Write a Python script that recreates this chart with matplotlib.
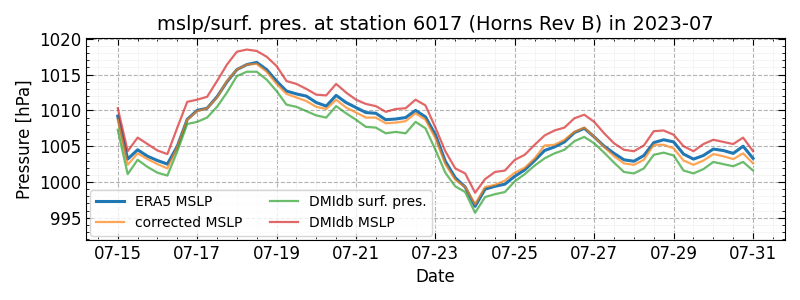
import numpy as np
import pandas as pd
import matplotlib
matplotlib.use("Agg")
import matplotlib.pyplot as plt
import matplotlib.dates as mdates
from matplotlib.ticker import MultipleLocator

times = pd.date_range("2023-07-15 00:00", "2023-07-31 00:00", freq="6h")

era5_mslp = [
    1009.2, 1003.2, 1004.5, 1003.6, 1003.0, 1002.5, 1005.0, 1008.75,
    1010.0, 1010.3, 1011.9, 1014.0, 1015.7, 1016.4, 1016.7, 1015.7,
    1014.1, 1012.7, 1012.3, 1012.0, 1011.1, 1010.6, 1012.1, 1011.1,
    1010.4, 1009.7, 1009.6, 1008.7, 1008.8, 1009.0, 1010.0, 1009.1,
    1006.6, 1002.9, 1000.6, 999.3, 996.6, 999.0, 999.4, 999.7,
    1000.8, 1001.7, 1003.0, 1004.4, 1004.9, 1005.6, 1006.9, 1007.5,
    1006.3, 1005.0, 1004.0, 1003.1, 1002.9, 1003.7, 1005.5, 1005.9,
    1005.6, 1003.9, 1003.2, 1003.7, 1004.6, 1004.4, 1004.0, 1005.0,
    1003.3,
]

corrected_mslp = [
    1008.7, 1002.4, 1004.0, 1003.2, 1002.5, 1001.9, 1004.9, 1008.7,
    1009.9, 1010.3, 1011.8, 1014.1, 1015.7, 1016.4, 1016.5, 1015.4,
    1013.7, 1012.3, 1011.8, 1011.3, 1010.5, 1010.2, 1011.5, 1010.4,
    1009.7, 1009.0, 1009.0, 1008.2, 1008.3, 1008.5, 1009.6, 1008.7,
    1006.1, 1002.5, 1000.3, 999.3, 996.9, 999.3, 999.6, 1000.2,
    1001.3, 1002.0, 1003.3, 1005.1, 1005.2, 1005.9, 1007.0, 1007.6,
    1006.3, 1004.9, 1003.6, 1002.6, 1002.4, 1003.1, 1005.2, 1005.2,
    1004.7, 1003.0, 1002.4, 1003.0, 1003.9, 1003.6, 1003.2, 1004.0,
    1002.6,
]

dmidb_surf = [
    1007.3, 1001.1, 1003.1, 1002.1, 1001.3, 1000.9, 1004.3, 1008.1,
    1008.4, 1009.0, 1010.5, 1012.5, 1014.8, 1015.4, 1015.4, 1014.3,
    1012.7, 1010.8, 1010.5, 1009.9, 1009.3, 1009.0, 1010.6, 1009.6,
    1008.7, 1007.7, 1007.6, 1006.8, 1007.0, 1006.8, 1008.4, 1007.5,
    1004.5, 1001.3, 999.4, 998.6, 995.7, 997.9, 998.3, 998.6,
    1000.1, 1001.1, 1002.3, 1003.3, 1004.0, 1004.5, 1005.7, 1006.3,
    1005.4, 1004.1, 1002.7, 1001.4, 1001.2, 1001.9, 1003.8, 1004.1,
    1003.7, 1001.6, 1001.2, 1001.8, 1002.8, 1002.5, 1002.2, 1002.8,
    1001.6,
]

dmidb_mslp = [
    1010.3, 1004.3, 1006.2, 1005.3, 1004.4, 1003.9, 1007.6, 1011.2,
    1011.5, 1011.9, 1014.1, 1016.4, 1018.2, 1018.5, 1018.3, 1017.5,
    1016.2, 1014.1, 1013.7, 1013.0, 1012.2, 1012.1, 1013.7, 1012.5,
    1011.5, 1010.9, 1010.6, 1009.8, 1010.2, 1010.3, 1011.5, 1010.7,
    1007.6, 1004.3, 1001.9, 1001.2, 998.5, 1000.4, 1001.4, 1001.6,
    1003.1, 1003.8, 1005.2, 1006.5, 1007.2, 1007.6, 1008.9, 1009.4,
    1008.4, 1006.8, 1005.4, 1004.5, 1004.3, 1005.1, 1007.1, 1007.2,
    1006.6, 1005.0, 1004.3, 1005.3, 1005.9, 1005.6, 1005.3, 1006.2,
    1004.3,
]

fig = plt.figure(figsize=(8, 3), dpi=100)
ax = fig.add_axes([0.1075, 0.2, 0.8735, 0.673])

ax.plot(times, era5_mslp, color="tab:blue", lw=2.2, label="ERA5 MSLP")
ax.plot(times, corrected_mslp, color="tab:orange", lw=1.6, alpha=0.7, label="corrected MSLP")
ax.plot(times, dmidb_surf, color="tab:green", lw=1.6, alpha=0.7, label="DMIdb surf. pres.")
ax.plot(times, dmidb_mslp, color="tab:red", lw=1.6, alpha=0.7, label="DMIdb MSLP")

ax.set_ylim(991.9, 1020.1)
ax.xaxis.set_major_locator(mdates.DayLocator(bymonthday=range(1, 32, 2)))
ax.xaxis.set_minor_locator(mdates.HourLocator(byhour=[0, 12]))
ax.xaxis.set_major_formatter(mdates.DateFormatter("%m-%d"))
ax.yaxis.set_major_locator(MultipleLocator(5))
ax.yaxis.set_minor_locator(MultipleLocator(1))

ax.tick_params(which="both", direction="in", top=True, right=True, labelsize=12)
ax.tick_params(which="major", length=5)
ax.tick_params(which="minor", length=2.5)
ax.grid(which="major", linestyle="--", color="0.7", lw=0.8)
ax.grid(which="minor", linestyle="-", color="0.95", lw=0.6)

ax.set_title("mslp/surf. pres. at station 6017 (Horns Rev B) in 2023-07", fontsize=14)
ax.set_xlabel("Date", fontsize=12)
ax.set_ylabel("Pressure [hPa]", fontsize=12)
ax.legend(loc="lower left", ncol=2, fontsize=10, handlelength=2.0,
          borderaxespad=0.3, columnspacing=2.0)

fig.savefig("out.png", dpi=100)
